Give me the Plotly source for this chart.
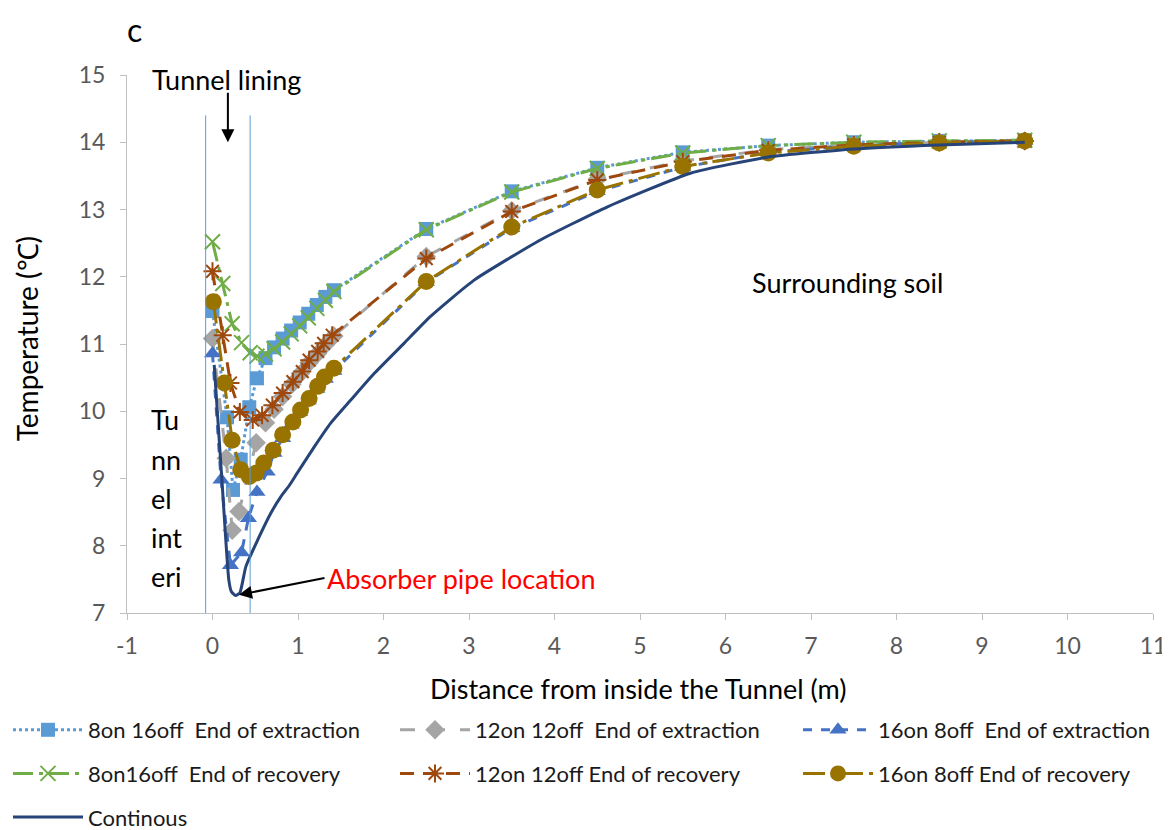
import plotly.graph_objects as go

FONT = "Lato"

# ---------------- data ----------------
x_far = [2.5, 3.5, 4.5, 5.5, 6.5, 7.5, 8.5, 9.5]

ext8_x = [0, 0.17, 0.24, 0.33, 0.43, 0.52, 0.62, 0.72, 0.82, 0.92, 1.02, 1.12, 1.22, 1.32, 1.42] + x_far
ext8_y = [11.49, 9.91, 8.83, 9.28, 10.06, 10.49, 10.79, 10.95, 11.08, 11.2, 11.32, 11.45, 11.58, 11.7, 11.8,
          12.71, 13.27, 13.62, 13.85, 13.95, 14.0, 14.02, 14.03]

ext12_x = [0, 0.16, 0.23, 0.31, 0.51, 0.62, 0.72, 0.82, 0.93, 1.03, 1.13, 1.23, 1.32, 1.42] + x_far
ext12_y = [11.08, 9.3, 8.23, 8.51, 9.53, 9.83, 10.03, 10.22, 10.4, 10.56, 10.72, 10.86, 10.99, 11.12,
           12.3, 12.98, 13.45, 13.72, 13.89, 13.96, 14.0, 14.02]

ext16_x = [0, 0.1, 0.21, 0.34, 0.42, 0.52, 0.64, 0.72, 0.82, 0.92, 1.02, 1.12, 1.22, 1.32, 1.42] + x_far
ext16_y = [10.86, 8.98, 7.71, 7.9, 8.41, 8.8, 9.1, 9.38, 9.6, 9.8, 9.99, 10.16, 10.33, 10.48, 10.6,
           11.92, 12.72, 13.27, 13.63, 13.85, 13.95, 14.0, 14.02]

rec8_x = [0, 0.12, 0.23, 0.34, 0.44, 0.52, 0.62, 0.72, 0.82, 0.92, 1.02, 1.12, 1.22, 1.32, 1.42] + x_far
rec8_y = [12.52, 11.9, 11.3, 11.02, 10.87, 10.82, 10.85, 10.93, 11.03, 11.15, 11.27, 11.39, 11.53, 11.65, 11.78,
          12.7, 13.26, 13.61, 13.84, 13.95, 14.0, 14.02, 14.03]

rec12_x = [0, 0.12, 0.21, 0.32, 0.47, 0.58, 0.7, 0.82, 0.94, 1.05, 1.13, 1.23, 1.3, 1.4] + x_far
rec12_y = [12.08, 11.13, 10.42, 9.99, 9.87, 9.94, 10.09, 10.27, 10.44, 10.59, 10.76, 10.89, 11.01, 11.13,
           12.27, 12.97, 13.44, 13.71, 13.88, 13.96, 14.0, 14.02]

rec16_x = [0.01, 0.14, 0.23, 0.33, 0.43, 0.51, 0.6, 0.71, 0.82, 0.94, 1.03, 1.13, 1.23, 1.31, 1.42] + x_far
rec16_y = [11.63, 10.42, 9.57, 9.13, 9.03, 9.08, 9.23, 9.42, 9.65, 9.84, 10.02, 10.19, 10.37, 10.51, 10.64,
           11.93, 12.74, 13.29, 13.64, 13.84, 13.94, 13.99, 14.02]

cont_x = [0.02, 0.11, 0.19, 0.22, 0.27, 0.32, 0.39, 0.53, 0.68, 0.8, 0.9, 0.99, 1.19, 1.38,
          1.62, 1.89, 2.24, 2.55, 3.06, 3.84, 4.62, 5.59, 6.5, 7.5, 8.5, 9.5]
cont_y = [10.69, 8.98, 7.5, 7.32, 7.26, 7.3, 7.69, 8.09, 8.48, 8.73, 8.9, 9.08, 9.47, 9.82,
          10.17, 10.56, 11.01, 11.41, 11.95, 12.55, 13.04, 13.54, 13.78, 13.9, 13.96, 14.0]

x_ticks = list(range(-1, 12))
y_ticks = list(range(7, 16))

lining_bounds = [-0.08, 0.44]

# ---------------- figure ----------------
# the page body adds an 8px offset, so the figure is 8px smaller than the window
W, H = 1162, 822
fig = go.Figure()

def add(name, x, y, color, dash, symbol, msize, legend, mline=None, width=3, shape="linear"):
    marker = dict(symbol=symbol, size=msize, color=color)
    if mline:
        marker["line"] = dict(color=color, width=mline)
    fig.add_trace(go.Scatter(
        x=x, y=y, name=name, mode="lines+markers" if symbol else "lines",
        line=dict(color=color, width=width, dash=dash, shape=shape, smoothing=0.5),
        marker=marker, legend=legend, legendgroup=name,
    ))

add("8on 16off  End of extraction", ext8_x, ext8_y, "#5B9BD5", "dot", "square", 14, "legend")
add("12on 12off  End of extraction", ext12_x, ext12_y, "#A5A5A5", "longdash", "diamond", 15, "legend2")
add("16on 8off  End of extraction", ext16_x, ext16_y, "#4472C4", "dash", "triangle-up", 15, "legend3")
add("8on16off  End of recovery", rec8_x, rec8_y, "#70AD47", "20px,6px,4px,6px", "x-thin", 15, "legend", mline=2)
add("12on 12off End of recovery", rec12_x, rec12_y, "#9E480E", "14px,9px", "asterisk", 15, "legend2", mline=2)
add("16on 8off End of recovery", rec16_x, rec16_y, "#997300", "22px,6px,4px,6px", "circle", 17, "legend3")
add("Continous", cont_x, cont_y, "#264478", "solid", None, 0, "legend", width=3, shape="spline")

# lining boundary lines
for xb in lining_bounds:
    fig.add_shape(type="line", x0=xb, x1=xb, y0=7, y1=14.4, xref="x", yref="y",
                  line=dict(color="#5B9BD5", width=1))

FS = 27
ann_font = dict(family=FONT, size=FS, color="#000000")
annotations = [
    dict(x=(117 - 118.7) / 1026, y=(605 - 21) / 538, xref="paper", yref="paper",
         xanchor="left", yanchor="middle", text="c", showarrow=False,
         font=dict(family=FONT, size=32, color="#000000")),
    dict(x=0.16, y=14.94, xref="x", yref="y", text="Tunnel lining", showarrow=False, font=ann_font),
    dict(x=0.18, y=14.0, ax=0.18, ay=14.76, xref="x", yref="y", axref="x", ayref="y", text="",
         showarrow=True, arrowhead=2, arrowsize=1.3, arrowwidth=2, arrowcolor="#000000"),
    dict(x=7.43, y=11.91, xref="x", yref="y", text="Surrounding soil", showarrow=False, font=ann_font),
    dict(x=0.31, y=7.27, ax=1.31, ay=7.52, xref="x", yref="y", axref="x", ayref="y",
         text="Absorber pipe location", xanchor="left", showarrow=True, arrowhead=2, arrowsize=1.3,
         arrowwidth=2, arrowcolor="#000000", font=dict(family=FONT, size=FS, color="#FF0000")),
    dict(x=(27 - 126.7) / 1026, y=(613 - 339) / 538, xref="paper", yref="paper",
         xanchor="center", yanchor="middle",
         text="Temperature (℃)", textangle=-90, showarrow=False,
         font=dict(family=FONT, size=28, color="#000000")),
    dict(x=(638 - 126.7) / 1026, y=(613 - 688) / 538, xref="paper", yref="paper",
         xanchor="center", yanchor="middle",
         text="Distance from inside the Tunnel (m)", showarrow=False,
         font=dict(family=FONT, size=27, color="#000000")),
]
for txt, yy in zip(["Tu", "nn", "el", "int", "eri"], [9.87, 9.28, 8.71, 8.13, 7.55]):
    annotations.append(dict(x=-0.745, y=yy, xref="x", yref="y", text=txt, xanchor="left",
                            showarrow=False, font=ann_font))

def leg(xpx):
    return dict(orientation="v", xref="container", yref="container",
                x=max(0, xpx - 13) / W, xanchor="left", y=1 - 701 / H, yanchor="top",
                font=dict(family=FONT, size=22, color="#1a1a1a"),
                itemwidth=70, tracegroupgap=12, bgcolor="rgba(0,0,0,0)")

fig.update_layout(
    width=W, height=H,
    margin=dict(l=119, r=17, t=67, b=217, autoexpand=False),
    paper_bgcolor="white", plot_bgcolor="white",
    font=dict(family=FONT, color="#595959"),
    xaxis=dict(range=[-1, 11], tickvals=x_ticks, ticktext=[str(v) for v in x_ticks],
               showgrid=False, zeroline=False,
               showline=True, linecolor="#BFBFBF", linewidth=1, ticks="outside", ticklen=6,
               tickcolor="#BFBFBF", ticklabelstandoff=6,
               tickfont=dict(family=FONT, size=23, color="#595959")),
    yaxis=dict(range=[7, 15], tickvals=y_ticks, ticktext=[str(v) for v in y_ticks],
               showgrid=False, zeroline=False,
               showline=True, linecolor="#BFBFBF", linewidth=1, ticks="outside", ticklen=6,
               tickcolor="#BFBFBF", ticklabelstandoff=10,
               tickfont=dict(family=FONT, size=23, color="#595959")),
    annotations=annotations,
    legend=leg(10),
    legend2=leg(400),
    legend3=leg(803),
)

fig.write_html("out.html")
